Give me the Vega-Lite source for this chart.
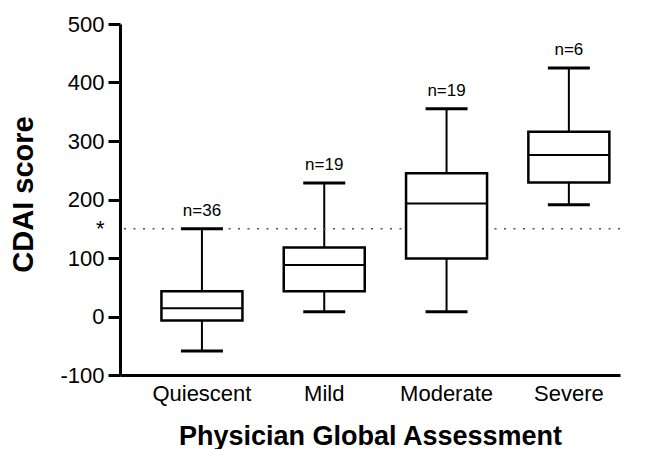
{
  "$schema": "https://vega.github.io/schema/vega-lite/v6.json",
  "width": 500,
  "height": 351,
  "autosize": {"type": "none"},
  "padding": {"left": 120, "top": 24, "right": 33, "bottom": 74},
  "background": "white",
  "config": {
    "view": {"stroke": null},
    "font": "Liberation Sans",
    "axis": {"grid": false, "domainColor": "black", "tickColor": "black", "labelColor": "black", "titleColor": "black"}
  },
  "datasets": {
    "boxes": [
      {"group": "Quiescent", "lower": -59, "q1": -7, "median": 14, "q3": 43, "upper": 150, "label": "n=36"},
      {"group": "Mild", "lower": 8, "q1": 43, "median": 88, "q3": 118, "upper": 228, "label": "n=19"},
      {"group": "Moderate", "lower": 8, "q1": 99, "median": 193, "q3": 245, "upper": 355, "label": "n=19"},
      {"group": "Severe", "lower": 191, "q1": 229, "median": 276, "q3": 316, "upper": 425, "label": "n=6"}
    ],
    "cutoff": [{"cdai": 150}]
  },
  "layer": [
    {
      "data": {"name": "boxes"},
      "mark": {"type": "rule", "color": "black", "strokeWidth": 2},
      "encoding": {
        "x": {
          "field": "group",
          "type": "nominal",
          "sort": ["Quiescent", "Mild", "Moderate", "Severe"],
          "scale": {"domain": ["Quiescent", "Mild", "Moderate", "Severe"], "paddingInner": 0.6, "paddingOuter": 0.344, "align": 0.683},
          "axis": {
            "title": "Physician Global Assessment",
            "titleFontSize": 27,
            "titleFontWeight": "bold",
            "titleBaseline": "alphabetic",
            "titleY": 69,
            "labelAngle": 0,
            "labelFontSize": 22,
            "labelPadding": 8,
            "ticks": false,
            "domainWidth": 3
          }
        },
        "y": {
          "field": "lower",
          "type": "quantitative",
          "scale": {"domain": [-100, 500], "nice": false, "zero": false},
          "axis": {
            "title": "CDAI score",
            "titleFontSize": 29,
            "titleFontWeight": "bold",
            "titleBaseline": "middle",
            "titleAlign": "center",
            "titleAngle": -90,
            "titleX": -97,
            "titleY": 170,
            "values": [-100, 0, 100, 150, 200, 300, 400, 500],
            "labelExpr": "datum.value == 150 ? '*' : toString(datum.value)",
            "labelFontSize": 22,
            "labelPadding": 4,
            "tickSize": 12,
            "tickWidth": 3,
            "tickOpacity": {"condition": {"test": "datum.value == 150", "value": 0}, "value": 1},
            "domainWidth": 3
          }
        },
        "y2": {"field": "upper"}
      }
    },
    {
      "data": {"name": "cutoff"},
      "mark": {"type": "rule", "color": "#555555", "strokeWidth": 1.5, "strokeDash": [2, 7.5]},
      "encoding": {
        "y": {"field": "cdai", "type": "quantitative"}
      }
    },
    {
      "data": {"name": "boxes"},
      "mark": {"type": "bar", "size": 81, "fill": "white", "stroke": "black", "strokeWidth": 2.5},
      "encoding": {
        "x": {"field": "group", "type": "nominal"},
        "y": {"field": "q1", "type": "quantitative"},
        "y2": {"field": "q3"}
      }
    },
    {
      "data": {"name": "boxes"},
      "mark": {"type": "tick", "size": 81, "thickness": 2, "color": "black", "opacity": 1},
      "encoding": {
        "x": {"field": "group", "type": "nominal"},
        "y": {"field": "median", "type": "quantitative"}
      }
    },
    {
      "data": {"name": "boxes"},
      "mark": {"type": "tick", "size": 42, "thickness": 3, "color": "black", "opacity": 1},
      "encoding": {
        "x": {"field": "group", "type": "nominal"},
        "y": {"field": "lower", "type": "quantitative"}
      }
    },
    {
      "data": {"name": "boxes"},
      "mark": {"type": "tick", "size": 42, "thickness": 3, "color": "black", "opacity": 1},
      "encoding": {
        "x": {"field": "group", "type": "nominal"},
        "y": {"field": "upper", "type": "quantitative"}
      }
    },
    {
      "data": {"name": "boxes"},
      "mark": {"type": "text", "fontSize": 17, "baseline": "alphabetic", "dy": -13, "color": "black"},
      "encoding": {
        "x": {"field": "group", "type": "nominal"},
        "y": {"field": "upper", "type": "quantitative"},
        "text": {"field": "label"}
      }
    }
  ]
}
